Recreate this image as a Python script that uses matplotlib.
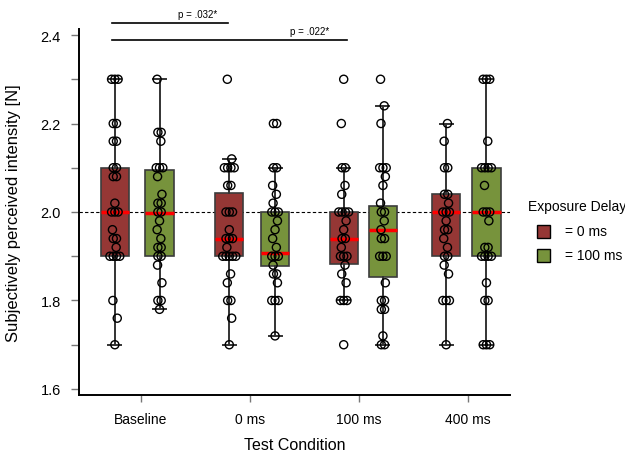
import numpy as np
import matplotlib.pyplot as plt
from matplotlib.patches import Rectangle

plt.rcParams['font.family'] = ['Liberation Sans', 'DejaVu Sans']

conditions = ['Baseline', '0 ms', '100 ms', '400 ms']
delay_labels = ['= 0 ms', '= 100 ms']

# ratings per participant, exposure delay 0 ms
base_0 = [2.3, 2.3, 2.3, 2.2, 2.2, 2.16, 2.16, 2.1, 2.1, 2.08, 2.08, 2.02, 2.0, 2.0, 2.0,
          1.96, 1.94, 1.94, 1.92, 1.9, 1.9, 1.9, 1.9, 1.8, 1.76, 1.7]
ms0_0 = [2.3, 2.12, 2.1, 2.1, 2.1, 2.1, 2.06, 2.06, 2.0, 2.0, 2.0, 1.96, 1.94, 1.94, 1.94,
         1.92, 1.9, 1.9, 1.9, 1.9, 1.9, 1.86, 1.84, 1.8, 1.8, 1.76, 1.7]
ms100_0 = [2.3, 2.2, 2.1, 2.1, 2.06, 2.04, 2.0, 2.0, 2.0, 2.0, 1.98, 1.96, 1.94, 1.94, 1.92,
           1.9, 1.9, 1.9, 1.88, 1.86, 1.84, 1.8, 1.8, 1.8, 1.7]
ms400_0 = [2.2, 2.16, 2.1, 2.1, 2.04, 2.04, 2.02, 2.0, 2.0, 2.0, 1.98, 1.96, 1.96, 1.94, 1.92,
           1.9, 1.9, 1.88, 1.86, 1.8, 1.8, 1.8, 1.7]

# ratings per participant, exposure delay 100 ms
base_100 = [2.3, 2.18, 2.18, 2.16, 2.1, 2.1, 2.1, 2.08, 2.04, 2.02, 2.02, 2.0, 2.0, 1.98, 1.96,
            1.94, 1.92, 1.92, 1.9, 1.9, 1.88, 1.84, 1.8, 1.8, 1.78]
ms0_100 = [2.2, 2.2, 2.1, 2.1, 2.06, 2.04, 2.02, 2.0, 2.0, 2.0, 1.98, 1.96, 1.94, 1.92, 1.9,
           1.9, 1.9, 1.88, 1.86, 1.86, 1.84, 1.8, 1.8, 1.8, 1.72]
ms100_100 = [2.3, 2.24, 2.2, 2.1, 2.1, 2.1, 2.08, 2.06, 2.02, 2.0, 2.0, 1.98, 1.96, 1.94, 1.94,
             1.9, 1.9, 1.9, 1.84, 1.8, 1.8, 1.78, 1.78, 1.72, 1.7, 1.7]
ms400_100 = [2.3, 2.3, 2.3, 2.16, 2.1, 2.1, 2.1, 2.1, 2.06, 2.0, 2.0, 2.0, 1.98, 1.92, 1.92,
             1.9, 1.9, 1.9, 1.9, 1.84, 1.8, 1.8, 1.7, 1.7, 1.7]

# box statistics as drawn in the figure
q1_0 = [1.90, 1.90, 1.883, 1.90]
med_0 = [2.00, 1.94, 1.94, 2.00]
q3_0 = [2.10, 2.043, 2.00, 2.04]
lo_0 = [1.70, 1.70, 1.80, 1.70]
hi_0 = [2.30, 2.12, 2.10, 2.20]

q1_100 = [1.90, 1.877, 1.854, 1.90]
med_100 = [1.997, 1.908, 1.96, 2.00]
q3_100 = [2.095, 2.00, 2.014, 2.10]
lo_100 = [1.78, 1.72, 1.70, 1.70]
hi_100 = [2.30, 2.10, 2.24, 2.30]

p_labels = ['p = .032*', 'p = .022*']

data_0 = [base_0, ms0_0, ms100_0, ms400_0]
data_100 = [base_100, ms0_100, ms100_100, ms400_100]

pos_0 = [0.76, 1.81, 2.86, 3.80]
pos_100 = [1.17, 2.23, 3.22, 4.17]
col_0 = '#953735'
col_100 = '#77933C'


def spread(vals):
    # horizontal offsets so tied ratings sit side by side
    vals = np.asarray(vals)
    offs = np.zeros(len(vals))
    single = [0.0, 0.022, -0.018, 0.012, -0.022]
    n = 0
    for v in np.unique(vals):
        idx = np.where(vals == v)[0]
        k = len(idx)
        if k == 1:
            offs[idx] = single[n % len(single)]
            n += 1
        else:
            offs[idx] = (np.arange(k) - (k - 1) / 2) * 0.03
    return offs


def stats(q1, med, q3, lo, hi):
    return [dict(q1=a, med=b, q3=c, whislo=d, whishi=e, fliers=[])
            for a, b, c, d, e in zip(q1, med, q3, lo, hi)]


fig = plt.figure(figsize=(6.25, 4.56), dpi=100)
ax = fig.add_axes([0.1264, 0.1316, 0.6896, 0.8026])

ax.axhline(2.0, color='black', lw=0.8, ls=(0, (3, 2)), zorder=1)

for st, pos, col in [(stats(q1_0, med_0, q3_0, lo_0, hi_0), pos_0, col_0),
                     (stats(q1_100, med_100, q3_100, lo_100, hi_100), pos_100, col_100)]:
    ax.bxp(st, positions=pos, widths=0.26, patch_artist=True, showfliers=False,
           boxprops=dict(facecolor=col, edgecolor='#3c3c3c', lw=1.2),
           medianprops=dict(color='red', lw=2.5),
           whiskerprops=dict(color='#333333', lw=1.4),
           capprops=dict(color='#333333', lw=1.4), capwidths=0.12,
           zorder=2)

for groups, pos in [(data_0, pos_0), (data_100, pos_100)]:
    for vals, p in zip(groups, pos):
        ax.scatter(p + spread(vals), vals, s=34, facecolors='none',
                   edgecolors='black', linewidths=1.0, zorder=4)

# significance brackets
ax.plot([pos_0[0] - 0.03, pos_0[1] - 0.01], [2.427, 2.427], color='black', lw=1.2, clip_on=False)
ax.plot([pos_0[0] - 0.03, pos_0[2] + 0.03], [2.389, 2.389], color='black', lw=1.2, clip_on=False)
ax.text(1.52, 2.447, p_labels[0], ha='center', va='center', fontsize=7)
ax.text(2.55, 2.409, p_labels[1], ha='center', va='center', fontsize=7)

ax.set_xlim(0.431, 4.386)
ax.set_ylim(1.5864, 2.4136)
ax.set_xticks([1, 2, 3, 4])
ax.set_xticklabels(conditions, fontsize=10)
ax.set_yticks([1.6, 1.8, 2.0, 2.2, 2.4])
ax.set_yticklabels(['1.6', '1.8', '2.0', '2.2', '2.4'], fontsize=10.5)
ax.set_yticks([1.7, 1.9, 2.1, 2.3], minor=True)
ax.tick_params(axis='y', which='both', length=6, width=1, color='#777777', pad=7)
ax.tick_params(axis='x', length=5, width=1, color='#777777', pad=7)

for s in ['top', 'right']:
    ax.spines[s].set_visible(False)
for s in ['left', 'bottom']:
    ax.spines[s].set_linewidth(1.4)

ax.set_xlabel('Test Condition', fontsize=11.5)
ax.xaxis.set_label_coords(0.5, -0.115)
ax.set_ylabel('Subjectively perceived intensity [N]', fontsize=12)
ax.yaxis.set_label_coords(-0.135, 0.5)

# legend
fig.text(528 / 625, 1 - 207 / 456, 'Exposure Delay', fontsize=10, va='center', ha='left')
for i, (lab, col) in enumerate(zip(delay_labels, [col_0, col_100])):
    yc = 1 - (232 + 24 * i) / 456
    fig.add_artist(Rectangle((537 / 625, yc - 6.5 / 456), 13 / 625, 13 / 456,
                             transform=fig.transFigure, facecolor=col,
                             edgecolor='black', lw=1))
    fig.text(565 / 625, yc, lab, fontsize=10, va='center', ha='left')

fig.savefig('out.png', dpi=100)
